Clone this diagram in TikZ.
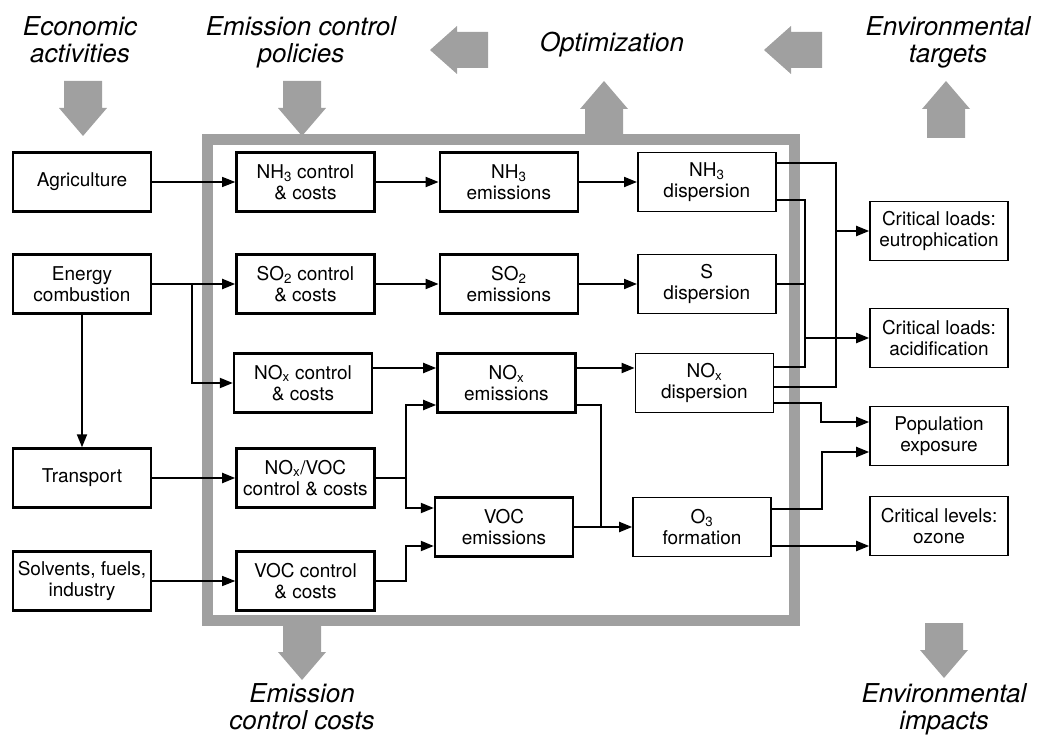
\documentclass[tikz,border=0pt]{standalone}
\usepackage{fontspec}
\setmainfont{TeX Gyre Heros}
\usetikzlibrary{positioning,arrows.meta}
\definecolor{framegray}{RGB}{160,160,160}

\tikzset{
    box/.style={draw, line width=2.4pt, minimum width=138pt, minimum height=59pt, inner sep=0pt, align=center, font=\fontsize{19}{21}\selectfont},
    lightbox/.style={box, line width=1.6pt},
    flow/.style={line width=2pt, -{Triangle[length=13pt,width=10pt]}},
    thinflow/.style={flow, line width=1.2pt},
    link/.style={line width=2pt},
    heading/.style={align=center, anchor=base, font=\fontsize{26}{27}\selectfont\itshape}
}

\begin{document}
\begin{tikzpicture}[x=1pt, y=-1pt]
        \useasboundingbox (0,0) rectangle (1039,735);

        \draw[framegray, line width=11pt] (207,140) rectangle (794,620);

        \foreach \cx/\cy in {83/81, 302/81, 302/625, 944/623}
            \fill[framegray] (\cx-19,\cy) -- (\cx+19,\cy) -- (\cx+19,\cy+27) -- (\cx+24,\cy+27) -- (\cx,\cy+55) -- (\cx-24,\cy+27) -- (\cx-19,\cy+27) -- cycle;
        \foreach \cx/\cy in {604/81, 946/81}
            \fill[framegray] (\cx,\cy) -- (\cx+24,\cy+28) -- (\cx+19,\cy+28) -- (\cx+19,\cy+57) -- (\cx-19,\cy+57) -- (\cx-19,\cy+28) -- (\cx-24,\cy+28) -- cycle;
        \foreach \cx/\cy in {430/50, 764/50}
            \fill[framegray] (\cx,\cy) -- (\cx+27,\cy-24) -- (\cx+27,\cy-18) -- (\cx+58,\cy-18) -- (\cx+58,\cy+18) -- (\cx+27,\cy+18) -- (\cx+27,\cy+24) -- cycle;

        \node[heading] (econ) at (80,63) {Economic\\activities};
        \node[heading] (policies) at (301,63) {Emission control\\policies};
        \node[heading] (optim) at (612,52) {Optimization};
        \node[heading] (targets) at (948,63) {Environmental\\targets};
        \node[heading] (costs) at (302,729) {Emission\\control costs};
        \node[heading] (impacts) at (944,729) {Environmental\\impacts};

        \node[box] (agri) at (82,182) {Agriculture};
        \node[box] (energy) at (82,284) {Energy\\combustion};
        \node[box] (transport) at (82,478) {Transport};
        \node[box] (solvents) at (82,581) {Solvents, fuels,\\industry};

        \node[box, right=83pt of agri] (nh3c) {NH\textsubscript{3} control\\\& costs};
        \node[box, right=83pt of energy] (so2c) {SO\textsubscript{2} control\\\& costs};
        \node[box] (noxc) at (303,383) {NO\textsubscript{x} control\\\& costs};
        \node[box, right=83pt of transport] (noxvoc) {NO\textsubscript{x}/VOC\\control \& costs};
        \node[box, right=83pt of solvents] (vocc) {VOC control\\\& costs};

        \node[box, right=63pt of nh3c] (nh3e) {NH\textsubscript{3}\\emissions};
        \node[box, right=63pt of so2c] (so2e) {SO\textsubscript{2}\\emissions};
        \node[box, right=63pt of noxc] (noxe) {NO\textsubscript{x}\\emissions};
        \node[box] (voce) at (504,527) {VOC\\emissions};

        \node[lightbox, right=58pt of nh3e] (nh3d) {NH\textsubscript{3}\\dispersion};
        \node[lightbox, right=58pt of so2e] (sd) {S\\dispersion};
        \node[lightbox, right=58pt of noxe] (noxd) {NO\textsubscript{x}\\dispersion};
        \node[lightbox, right=58pt of voce] (o3f) {O\textsubscript{3}\\formation};

        \node[lightbox] (eutro) at (939,231) {Critical loads:\\eutrophication};
        \node[lightbox] (acid) at (939,338) {Critical loads:\\acidification};
        \node[lightbox] (pop) at (939,436) {Population\\exposure};
        \node[lightbox] (ozone) at (939,526) {Critical levels:\\ozone};

        \draw[thinflow] (agri) -- (nh3c);
        \draw[flow] (energy) -- (so2c);
        \draw[flow] (energy.east) -- ++(40,0) |- (noxc.west);
        \draw[flow] (energy) -- (transport);
        \draw[flow] (transport) -- (noxvoc);
        \draw[thinflow] (solvents) -- (vocc);

        \draw[flow] (nh3c) -- (nh3e);
        \draw[flow] (so2c) -- (so2e);
        \draw[flow] (noxc.east |- 0,368) -- (noxe.west |- 0,368);
        \draw[flow] (noxvoc.east) -- ++(30,0) |- (noxe.west |- 0,405);
        \draw[flow] (noxvoc.east) -- ++(30,0) |- (voce.west |- 0,508);
        \draw[flow] (vocc.east) -- ++(30,0) |- (voce.west |- 0,546);

        \draw[flow] (nh3e) -- (nh3d);
        \draw[flow] (so2e) -- (sd);
        \draw[flow] (noxe.east |- 0,368) -- (noxd.west |- 0,368);
        \coordinate (o3join) at (601,527);
        \draw[link] (noxe.east |- 0,405) -| (o3join);
        \draw[flow] (voce) -- (o3f);

        \draw[link] (nh3d.east |- 0,163) -| (836,387) -- (noxd.east |- 0,387);
        \draw[flow] (eutro.west -| 836,0) -- (eutro.west);
        \draw[link] (nh3d.east |- 0,200) -| (805,367) -- (noxd.east |- 0,367);
        \draw[link] (sd.east) -- (sd.east -| 805,0);
        \draw[flow] (acid.west -| 805,0) -- (acid.west);
        \draw[flow] (noxd.east |- 0,403) -| (821,422) -- (pop.west |- 0,422);
        \draw[flow] (o3f.east |- 0,509) -| (822,452) -- (pop.west |- 0,452);
        \draw[flow] (o3f.east |- 0,546) -- (ozone.west |- 0,546);
    \end{tikzpicture}
\end{document}
